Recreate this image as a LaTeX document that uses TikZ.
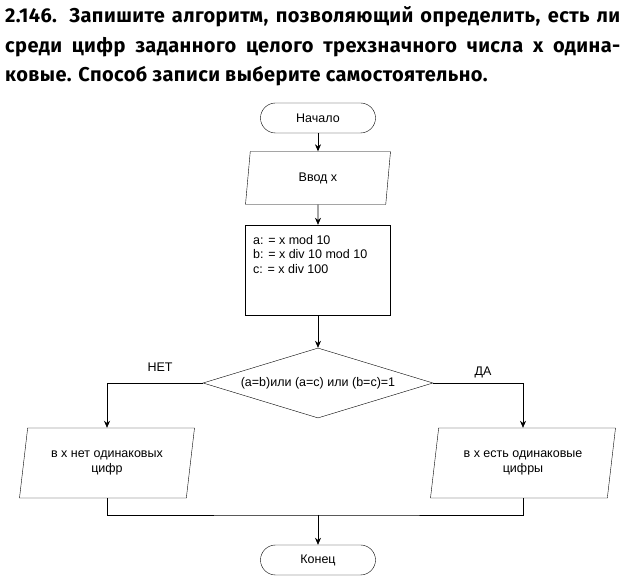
\documentclass[tikz,border=0pt]{standalone}
\usepackage{fontspec}
\setmainfont{Liberation Sans}
\newfontfamily\titlefont[LetterSpace=2]{Fira Sans}
\usetikzlibrary{shapes.geometric,arrows.meta}
\begin{document}
\begin{tikzpicture}[x=1pt,y=-1pt,
  every node/.style={font=\fontsize{12.5}{14.5}\selectfont},
  tl/.style={anchor=west,inner sep=0pt,font=\titlefont\bfseries\fontsize{20}{24}\selectfont},
  term/.style={draw,rounded corners=15pt,minimum width=115pt,minimum height=30pt},
  io/.style={draw,trapezium,trapezium left angle=75,trapezium right angle=105,trapezium stretches body,align=center},
  proc/.style={draw,minimum width=145pt,minimum height=90pt},
  arr/.style={-{Stealth[length=7pt,width=6pt]}},
  ln/.style={draw,line width=0.6pt}]
\useasboundingbox (0,0) rectangle (625,577);
\node[tl] (t1) at (5,17) {\makebox[615pt][s]{2.146. Запишите алгоритм, позволяющий определить, есть ли}};
\node[tl] (t2) at (5,47) {\makebox[615pt][s]{среди цифр заданного целого трехзначного числа x одина-}};
\node[tl] (t3) at (5,76) {ковые. Способ записи выберите самостоятельно.};
\node[term] (start) at (318,118) {Начало};
\node[io,minimum width=145pt,minimum height=53pt] (in) at (318,178) {Ввод x};
\node[proc] (calc) at (318,270) {};
\node[anchor=north west,align=left,inner sep=0pt] (calct) at (253,235) {a: = x mod 10\\ b: = x div 10 mod 10\\ c: = x div 100};
\node[draw,diamond,minimum width=230pt,minimum height=70pt,inner sep=0pt] (d) at (318,383) {};
\node (dt) at (318,383) {(a=b)или (a=c) или (b=c)=1};
\node[io,minimum width=175pt,minimum height=70pt] (no) at (107,463) {в x нет одинаковых\\ цифр};
\node[io,minimum width=185pt,minimum height=70pt] (yes) at (523,463) {в x есть одинаковые\\ цифры};
\node[term] (end) at (318,560) {Конец};
\coordinate (m) at (318,515);
\draw[ln,arr] (start) -- (in);
\draw[ln,arr] (in) -- (calc);
\draw[ln,arr] (calc) -- (d);
\draw[ln,arr] (d.west) -| (no.north);
\draw[ln,arr] (d.east) -| (yes.north);
\node (nl) at (160,367) {НЕТ};
\node (yl) at (483,372) {ДА};
\draw[ln] (no.south) |- (m) -| (yes.south);
\draw[ln,arr] (m) -- (end);
\end{tikzpicture}
\end{document}
